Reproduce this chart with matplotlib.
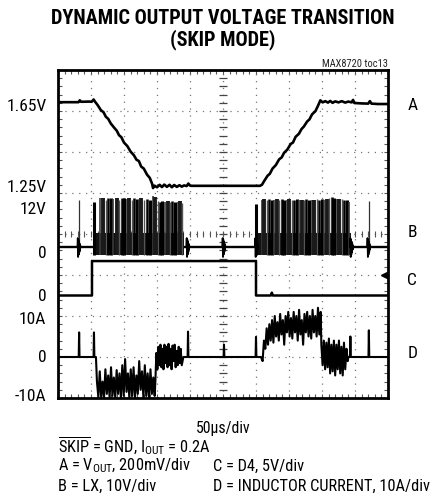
import numpy as np
import matplotlib
matplotlib.use('Agg')
import matplotlib.pyplot as plt
from matplotlib import font_manager as fm

# look for a narrow sans (the scope plots use Helvetica Condensed)
prefer = ['Liberation Sans Narrow', 'Roboto Condensed', 'Noto Sans', 'DejaVu Sans',
          'Open Sans', 'Roboto', 'Liberation Sans']
narrow = {}
for f in fm.fontManager.ttflist:
    st = f.stretch
    is_cond = ('Narrow' in f.name or 'Condensed' in f.name or
               (isinstance(st, str) and 'condensed' in st) or
               (isinstance(st, int) and st < 500))
    if is_cond:
        narrow[f.name] = True
pick = [n for n in prefer if n in narrow] + sorted(narrow)
if pick:
    plt.rcParams['font.family'] = [pick[0], 'Liberation Sans', 'DejaVu Sans']
    plt.rcParams['font.stretch'] = 'condensed'
else:
    plt.rcParams['font.family'] = ['Liberation Sans', 'DejaVu Sans']
plt.rcParams['mathtext.default'] = 'regular'

# ---- trace A: V_OUT (volts), 200mV/div
a_time = [0.0, 0.62, 0.66, 0.7, 0.95, 1.02, 1.08, 1.12, 1.2, 1.3, 1.38, 1.45, 1.52, 1.6,
          1.7, 1.78, 1.85, 1.92, 2.0, 2.1, 2.2, 2.3, 2.38, 2.45, 2.52, 2.6, 2.7, 2.78,
          2.85, 2.88, 2.92, 3.0, 3.08, 3.15, 3.22, 3.3, 3.38, 3.45, 3.52, 3.6, 3.68,
          3.75, 3.82, 3.9, 3.95, 4.0, 4.05, 5.0, 6.0, 6.12, 6.18, 6.25, 6.35, 6.42, 6.5,
          6.6, 6.7, 6.78, 6.85, 6.95, 7.05, 7.12, 7.2, 7.3, 7.38, 7.45, 7.55, 7.62, 7.7,
          7.8, 7.88, 7.95, 8.02, 8.1, 8.18, 8.25, 8.32, 8.4, 8.5, 8.6, 8.7, 8.8, 8.9,
          8.94, 8.98, 9.2, 9.4, 9.45, 9.5, 9.7, 10.0]
a_volt = [1.659, 1.659, 1.668, 1.661, 1.662, 1.661, 1.672, 1.662, 1.645, 1.62, 1.61,
          1.588, 1.578, 1.555, 1.535, 1.52, 1.498, 1.488, 1.462, 1.445, 1.418, 1.4,
          1.378, 1.372, 1.345, 1.335, 1.305, 1.29, 1.262, 1.24, 1.252, 1.244, 1.256,
          1.245, 1.257, 1.246, 1.256, 1.244, 1.255, 1.246, 1.254, 1.247, 1.253, 1.25,
          1.262, 1.252, 1.251, 1.251, 1.251, 1.251, 1.256, 1.275, 1.3, 1.31, 1.335,
          1.352, 1.38, 1.39, 1.412, 1.428, 1.455, 1.462, 1.49, 1.505, 1.528, 1.54,
          1.565, 1.575, 1.6, 1.615, 1.642, 1.668, 1.658, 1.664, 1.657, 1.665, 1.656,
          1.663, 1.658, 1.664, 1.657, 1.662, 1.658, 1.67, 1.655, 1.653, 1.652, 1.664,
          1.652, 1.65, 1.65]

# ---- trace B: LX (volts), 10V/div
b_burst1_t = [1.09, 1.27, 1.37, 1.45, 1.53, 1.60, 1.68, 1.78, 1.86, 1.93, 2.01, 2.08,
              2.15, 2.23, 2.31, 2.38, 2.45, 2.53, 2.61, 2.69, 2.79, 2.89, 2.94, 3.02,
              3.09, 3.16, 3.24, 3.32, 3.39, 3.46, 3.55, 3.63, 3.70, 3.77]
b_burst1_v = [11.0, 12.0, 12.0, 11.5, 12.0, 12.0, 11.8, 12.0, 11.5, 12.0, 12.0, 11.8,
              12.0, 11.6, 12.0, 11.8, 11.5, 12.0, 11.6, 11.8, 11.5, 12.5, 12.3, 11.2,
              11.0, 11.2, 11.0, 11.3, 11.0, 11.2, 11.0, 11.0, 11.2, 10.8]
b_burst2_t = [6.00, 6.17, 6.24, 6.32, 6.40, 6.48, 6.55, 6.63, 6.71, 6.78, 6.85, 6.93,
              7.01, 7.08, 7.15, 7.23, 7.31, 7.38, 7.45, 7.53, 7.61, 7.69, 7.76, 7.84,
              7.92, 7.99, 8.06, 8.14, 8.22, 8.29, 8.36, 8.44, 8.52, 8.60, 8.67, 8.75, 8.83]
b_burst2_v = [10.5, 11.5, 11.8, 11.6, 11.8, 11.5, 11.6, 11.8, 11.5, 11.7, 11.6, 11.5,
              11.8, 11.6, 11.5, 11.7, 11.6, 11.5, 11.6, 11.8, 11.5, 11.6, 11.5, 11.7,
              11.6, 11.8, 11.6, 11.7, 12.0, 12.2, 12.0, 11.8, 11.7, 11.8, 11.5, 11.6, 11.0]
b_spike_t = [0.64, 9.42]
b_spike_v = [11.5, 11.3]
b_ring_t = [0.64, 3.94, 5.03, 6.02, 8.9, 9.42]
ring_dt = [0.0, 0.01, 0.02, 0.03, 0.04, 0.05, 0.06, 0.07, 0.08, 0.09, 0.1]
ring_v = [0.0, 2.2, -2.4, 1.8, -1.8, 1.3, -1.2, 0.8, -0.6, 0.3, 0.0]

# ---- trace C: D4 (volts), 5V/div
c_time = [0.0, 1.03, 1.03, 6.0, 6.0, 6.45, 6.48, 6.51, 10.0]
c_volt = [0.0, 0.0, 4.2, 4.2, 0.0, 0.0, 0.35, 0.0, 0.0]
c_marker_v = 2.5

# ---- trace D: inductor current (amps), 10A/div
d_spike_t = [0.64, 1.09, 3.94, 5.03, 6.0, 8.86, 9.42]
d_spike_a = [6.0, 6.0, 6.2, 3.0, 4.9, 5.0, 6.5]
d_seg1 = [-6.0, -9.8, -3.5, -9.8, -6.0, -10.0, -3.0, -9.0, -4.5, -10.0, -2.5, -9.5,
          -5.0, -10.0, -3.2, -9.0, -4.0, -10.0, -2.0, -9.5, -0.5, -8.5, -4.0, -10.0,
          -3.0, -9.5, -2.5, -10.0, -4.5, -9.0, -1.0, -8.0, -3.5, -10.0, -2.0, -9.5,
          -4.0, -10.0, -3.0, -9.0, -5.0, -9.5]
d_seg2 = [-6.0, 1.0, -3.0, 2.5, -2.0, 3.0, -2.5, 2.0, -3.0, 3.0, -1.5, 2.5, -2.5, 3.2,
          -2.0, 2.0, -3.0, 2.8, -1.0, 3.0, -2.5, 1.5, -2.0, 2.5, -1.5, 2.0, -2.0]
d_seg3 = [-1.0, 4.0, 2.0, 7.0, 3.0, 8.0, 4.0, 9.0, 3.5, 10.0, 5.0, 8.5, 4.0, 10.5,
          5.5, 9.0, 3.0, 10.0, 6.0, 11.0, 5.0, 9.5, 4.5, 11.0, 6.0, 10.0, 4.0, 11.5,
          5.5, 9.0, 3.0, 10.5, 6.0, 11.0, 5.0, 10.0, 4.5, 11.5, 6.0, 10.0, 5.0, 12.0,
          5.5, 11.0]
d_seg4 = [3.0, -2.0, 4.0, -3.0, 3.5, -2.5, 4.5, -4.0, 3.0, -3.5, 4.0, -4.5, 3.0, -3.0,
          4.0, -4.0, 2.5, -4.5, 3.5, -3.0, 2.0, -1.0]

left_labels = ['1.65V', '1.25V', '12V', '0', '0', '10A', '0', '-10A']
right_labels = ['A', 'B', 'C', 'D']

# screen placement (divisions from bottom)
a_ref, a_zero = 5.17, 1.25
b_zero, c_zero, d_zero = 3.68, 2.5, 1.0
left_y = [7.13, 5.15, 4.61, 3.56, 2.49, 1.95, 1.02, 0.07]
right_y = [7.17, 4.05, 2.88, 1.12]

W, H = 440, 502
fig = plt.figure(figsize=(W / 100, H / 100), dpi=100)
ax = fig.add_axes([58 / W, 103 / H, 330 / W, 328 / H])
ax.set_xlim(0, 10)
ax.set_ylim(0, 8)

# graticule
dot = (0, (1, 4.5))
for x in range(1, 10):
    ax.axvline(x, color='#777777', lw=0.9, ls=dot, zorder=1)
for y in range(1, 8):
    ax.axhline(y, color='#777777', lw=0.9, ls=dot, zorder=1)
sub = np.arange(0, 10.01, 0.2)
ax.plot(np.full(41, 5.0), np.arange(0, 8.01, 0.2), ls='none', marker='_', ms=6,
        color='#444444', mew=0.9, zorder=1)
ax.plot(sub, np.full(len(sub), 4.0), ls='none', marker='|', ms=5, color='#555555',
        mew=0.8, zorder=1)
ax.set_xticks(np.arange(0, 10.01, 1))
ax.set_xticks(sub, minor=True)
ax.set_yticks(np.arange(0, 8.01, 1))
ax.set_yticks(np.arange(0, 8.01, 0.2), minor=True)
ax.tick_params(which='both', direction='in', top=True, right=True, length=3,
               width=0.8, color='#555555', labelbottom=False, labelleft=False)
for s in ax.spines.values():
    s.set_linewidth(2.0)

# trace A
a_div = a_ref + (np.array(a_volt) - a_zero) / 0.2
ax.plot(a_time, a_div, color='black', lw=1.9, zorder=3)

# trace B
bz = lambda v: b_zero + np.asarray(v) / 10.0
ax.plot([0, 10], [b_zero, b_zero], color='black', lw=1.7, zorder=3)
for t0, t1 in [(b_burst1_t[0], b_burst1_t[-1] + 0.05), (b_burst2_t[0], b_burst2_t[-1] + 0.05)]:
    ax.fill_between([t0, t1], bz(-2.0), bz(3.5), color='#111111', lw=0, zorder=3)
widths = [2.2, 1.2, 2.8, 1.0, 1.8]
shades = ['black', '#3a3a3a', '#1a1a1a', '#555555', 'black']
for ts, vs in [(b_burst1_t, b_burst1_v), (b_burst2_t, b_burst2_v)]:
    for i, (t, v) in enumerate(zip(ts, vs)):
        ax.vlines(t, bz(-2.0), bz(v), color=shades[i % 5], lw=widths[i % 5], zorder=3)
ax.vlines(b_spike_t, bz(-1.0), bz(b_spike_v), color='#333333', lw=0.9, zorder=3)
for t in b_ring_t:
    ax.plot(t + np.array(ring_dt) - 0.05, bz(ring_v), color='black', lw=1.3, zorder=3)

# trace C
ax.plot(c_time, c_zero + np.array(c_volt) / 5.0, color='black', lw=1.8, zorder=3)
ax.plot(9.88, c_zero + c_marker_v / 5.0, marker='<', ms=5, color='black', zorder=4)

# trace D
pts = [(0.0, 0.0), (10.0, 0.0), (1.15, 0.0), (3.8, 0.0), (6.15, 0.0), (8.8, 0.0)]
for t, a in zip(d_spike_t, d_spike_a):
    pts += [(t - 0.012, 0.0), (t, a), (t + 0.012, 0.0)]
for seg, t0, t1 in [(d_seg1, 1.18, 2.93), (d_seg2, 2.95, 3.75),
                    (d_seg3, 6.2, 7.96), (d_seg4, 7.98, 8.78)]:
    pts += list(zip(np.linspace(t0, t1, len(seg)), seg))
pts.sort()
d_t = [p[0] for p in pts]
d_a = [p[1] for p in pts]
ax.plot(d_t, d_zero + np.array(d_a) / 10.0, color='black', lw=1.5, zorder=3)

# text
ytr = ax.get_yaxis_transform()
left_txt = [ax.text(-0.035, y, lab, transform=ytr, ha='right', va='center', fontsize=12)
            for lab, y in zip(left_labels, left_y)]
right_txt = [ax.text(1.058, y, lab, transform=ytr, ha='left', va='center', fontsize=13)
             for lab, y in zip(right_labels, right_y)]

title1 = fig.text(223 / W, 1 - 19 / H, 'DYNAMIC OUTPUT VOLTAGE TRANSITION', ha='center',
                  va='center', fontsize=15, fontweight='heavy')
title2 = fig.text(223 / W, 1 - 40 / H, '(SKIP MODE)', ha='center', va='center',
                  fontsize=15, fontweight='heavy')
toc = fig.text(388 / W, 1 - 64 / H, 'MAX8720 toc13', ha='right', va='center',
               fontsize=7.5, color='#222222')
xdiv = fig.text(223 / W, 1 - 429 / H, '50\u03bcs/div', ha='center', va='center',
                fontsize=11)
notes = [
    fig.text(213 / W, 1 - 486 / H, 'D = INDUCTOR CURRENT, 10A/div', ha='left',
             va='center', fontsize=10.5),
    fig.text(58 / W, 1 - 446 / H, r'$\overline{SKIP}$ = GND, I$_{OUT}$ = 0.2A',
             ha='left', va='center', fontsize=10.5),
    fig.text(58 / W, 1 - 466 / H, r'A = V$_{OUT}$, 200mV/div', ha='left', va='center',
             fontsize=10.5),
    fig.text(58 / W, 1 - 486 / H, 'B = LX, 10V/div', ha='left', va='center',
             fontsize=10.5),
    fig.text(213 / W, 1 - 466 / H, 'C = D4, 5V/div', ha='left', va='center',
             fontsize=10.5),
]

# size the texts to the widths they take in the original
renderer = fig.canvas.get_renderer()


def fit(texts, width_px):
    w = texts[0].get_window_extent(renderer).width
    k = width_px / w
    for t in texts:
        t.set_fontsize(t.get_fontsize() * k)
    return k


fit([title1, title2], 347)
fit([toc], 66)
fit([xdiv], 55)
fit(notes, 218)
fit(left_txt, 40)
fit(right_txt, 10)

fig.savefig('out.png', dpi=100)
